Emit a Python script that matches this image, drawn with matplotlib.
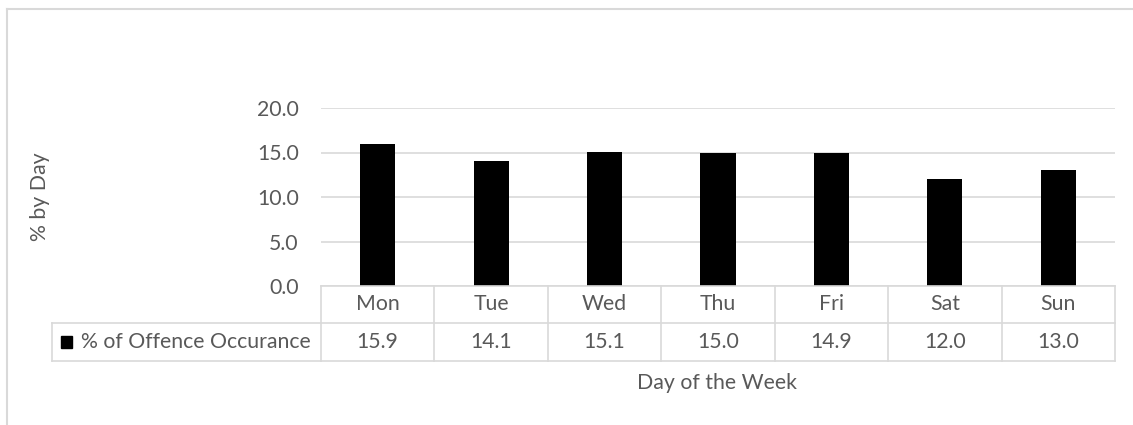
import numpy as np
import matplotlib
matplotlib.use("Agg")
import matplotlib.pyplot as plt
from matplotlib.lines import Line2D
from matplotlib.patches import Rectangle
import matplotlib.transforms as mtransforms

days = ["Mon", "Tue", "Wed", "Thu", "Fri", "Sat", "Sun"]
pct_offence = [15.9, 14.1, 15.1, 15.0, 14.9, 12.0, 13.0]
series_name = "% of Offence Occurance"
y_ticks = [0, 5, 10, 15, 20]

W, H = 1133, 425
TXT = "#595959"
GRID = "#d9d9d9"
FS = 15.3

plt.rcParams["font.family"] = ["Lato", "DejaVu Sans"]

fig = plt.figure(figsize=(W / 100, H / 100), dpi=100)


def fx(px):
    return px / W


def fy(py):
    return 1 - py / H


ax = fig.add_axes([fx(321), fy(286), fx(1115) - fx(321), fy(108) - fy(286)])
x = np.arange(len(days))
ax.bar(x, pct_offence, width=0.31, color="black", zorder=3)
ax.set_xlim(-0.5, len(days) - 0.5)
ax.set_ylim(0, 20)
ax.set_yticks(y_ticks)
ax.set_yticklabels(["%.1f" % v for v in y_ticks], color=TXT, fontsize=FS)
ax.tick_params(axis="y", length=0, pad=16)
ax.set_xticks([])
ax.grid(axis="y", color=GRID, linewidth=1.2, zorder=0)
for s in ax.spines.values():
    s.set_visible(False)

# data table under the axis
trans = mtransforms.blended_transform_factory(ax.transData, fig.transFigure)
y_top, y_mid, y_bot = fy(286), fy(323), fy(361)
lw = 1.2
for yy in (y_top, y_mid, y_bot):
    fig.add_artist(Line2D([-0.5, len(days) - 0.5], [yy, yy], transform=trans,
                          color=GRID, lw=lw))
for i in range(len(days) + 1):
    fig.add_artist(Line2D([i - 0.5, i - 0.5], [y_top, y_bot], transform=trans,
                          color=GRID, lw=lw))
for i, d in enumerate(days):
    fig.text(i, (y_top + y_mid) / 2, d, transform=trans, ha="center",
             va="center", color=TXT, fontsize=FS)
    fig.text(i, (y_mid + y_bot) / 2, "%.1f" % pct_offence[i], transform=trans,
             ha="center", va="center", color=TXT, fontsize=FS)

# legend key cell
fig.add_artist(Line2D([fx(52), fx(321)], [y_mid, y_mid], color=GRID, lw=lw))
fig.add_artist(Line2D([fx(52), fx(321)], [y_bot, y_bot], color=GRID, lw=lw))
fig.add_artist(Line2D([fx(52), fx(52)], [y_mid, y_bot], color=GRID, lw=lw))
fig.add_artist(Rectangle((fx(61), fy(348)), fx(11), fy(336) - fy(348),
                         color="black", transform=fig.transFigure))
fig.text(fx(81), (y_mid + y_bot) / 2, series_name, ha="left", va="center",
         color=TXT, fontsize=FS)

# axis titles
fig.text(fx(717), fy(383), "Day of the Week", ha="center", va="center",
         color=TXT, fontsize=FS)
fig.text(fx(40), fy(197), "% by Day", ha="center", va="center",
         rotation=90, color=TXT, fontsize=FS)

# chart area border
fig.add_artist(Line2D([fx(7), fx(7)], [fy(9), 0], color=GRID, lw=1.5))
fig.add_artist(Line2D([fx(7), 1], [fy(9), fy(9)], color=GRID, lw=1.5))

fig.savefig("out.png", dpi=100, facecolor="white")
